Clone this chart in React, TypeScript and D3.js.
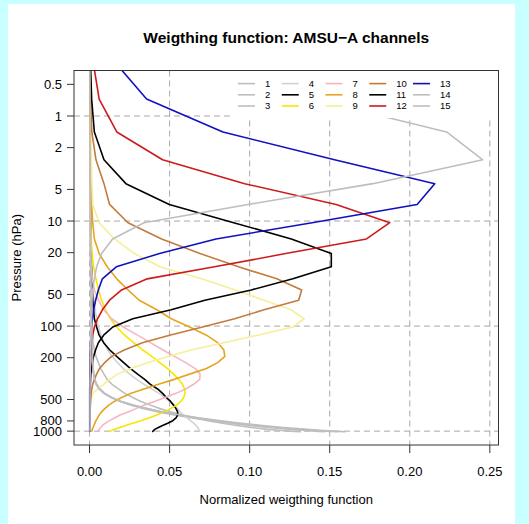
import React from "react";
import * as d3 from "d3";

// Pressure levels (hPa) on which the weighting functions are tabulated
const LEVELS = [
  0.1, 0.29, 0.69, 1.42, 2.611, 4.407, 6.95, 10.37, 14.81, 20.4, 27.26, 35.51, 45.29, 56.73,
  69.97, 85.18, 102.05, 122.04, 143.84, 167.95, 194.36, 222.94, 253.71, 286.6, 321.5, 358.28,
  396.81, 436.95, 478.54, 521.46, 565.54, 610.6, 656.43, 702.73, 749.12, 795.09, 839.95, 882.8,
  922.46, 957.44, 985.88, 1005.43, 1013.25,
];

// Normalized weighting function per AMSU-A channel, one value per level
const CH1 = [
  0.0002, 0.0002, 0.0003, 0.0003, 0.0004, 0.0004, 0.0005, 0.0005, 0.0006, 0.0006, 0.0007, 0.0008, 0.0009, 0.001,
  0.0011, 0.0012, 0.0013, 0.0014, 0.0015, 0.0016, 0.0017, 0.0018, 0.002, 0.0025, 0.003, 0.004,
  0.006, 0.009, 0.0135, 0.019, 0.026, 0.034, 0.043, 0.053, 0.064, 0.076, 0.088, 0.1,
  0.112, 0.124, 0.135, 0.143, 0.147,
];
const CH2 = [
  0.0002, 0.0002, 0.0003, 0.0003, 0.0004, 0.0004, 0.0005, 0.0005, 0.0006, 0.0007, 0.0008, 0.0009, 0.001, 0.0011,
  0.0012, 0.0013, 0.0014, 0.0015, 0.0016, 0.0017, 0.0018, 0.002, 0.0022, 0.0027, 0.0033, 0.0045,
  0.0065, 0.0095, 0.014, 0.02, 0.027, 0.036, 0.045, 0.056, 0.067, 0.079, 0.091, 0.104,
  0.117, 0.129, 0.141, 0.15, 0.155,
];
const CH3 = [
  0.0001, 0.0001, 0.0002, 0.0002, 0.0003, 0.0003, 0.0004, 0.0004, 0.0005, 0.0005, 0.0006, 0.0006, 0.0007, 0.0008,
  0.001, 0.0012, 0.0015, 0.0018, 0.0022, 0.003, 0.004, 0.0055, 0.007, 0.009, 0.011, 0.014,
  0.018, 0.022, 0.027, 0.032, 0.038, 0.044, 0.051, 0.058, 0.066, 0.074, 0.083, 0.092,
  0.101, 0.11, 0.12, 0.128, 0.132,
];
const CH4 = [
  0.0001, 0.0001, 0.0001, 0.0002, 0.0002, 0.0003, 0.0003, 0.0004, 0.0005, 0.0007, 0.0012, 0.0015, 0.002, 0.0028,
  0.0035, 0.0045, 0.0056, 0.0072, 0.009, 0.0113, 0.014, 0.0175, 0.021, 0.025, 0.0294, 0.034,
  0.0388, 0.0435, 0.047, 0.05, 0.0525, 0.055, 0.0565, 0.0585, 0.061, 0.063, 0.065, 0.0665,
  0.0675, 0.068, 0.0685, 0.0688, 0.069,
];
const CH5 = [
  0.0001, 0.0002, 0.0003, 0.0004, 0.0005, 0.0006, 0.0007, 0.0008, 0.0009, 0.001, 0.0012, 0.0014, 0.0017, 0.002,
  0.0025, 0.003, 0.0044, 0.006, 0.0088, 0.0125, 0.0169, 0.0213, 0.0256, 0.03, 0.0344, 0.038,
  0.0425, 0.0456, 0.048, 0.0506, 0.0525, 0.054, 0.055, 0.055, 0.054, 0.052, 0.0488, 0.0456,
  0.043, 0.041, 0.04, 0.0394, 0.039,
];
const CH6 = [
  0.0001, 0.0001, 0.0002, 0.0003, 0.0004, 0.0005, 0.0006, 0.0008, 0.001, 0.0016, 0.0025, 0.004, 0.0056, 0.0075,
  0.01, 0.013, 0.0169, 0.0219, 0.0275, 0.033, 0.0388, 0.0438, 0.0488, 0.0525, 0.0556, 0.058,
  0.0594, 0.0597, 0.0588, 0.057, 0.0544, 0.0506, 0.0463, 0.042, 0.037, 0.032, 0.027, 0.0225,
  0.019, 0.0156, 0.0138, 0.0125, 0.012,
];
const CH7 = [
  0.0001, 0.0001, 0.0002, 0.0002, 0.0003, 0.0003, 0.0004, 0.0005, 0.0006, 0.0008, 0.001, 0.0017, 0.003, 0.0056,
  0.0088, 0.0138, 0.021, 0.03, 0.038, 0.0456, 0.053, 0.06, 0.066, 0.069, 0.0688, 0.065,
  0.06, 0.054, 0.047, 0.0406, 0.034, 0.029, 0.024, 0.019, 0.0156, 0.0125, 0.01, 0.008,
  0.007, 0.006, 0.0053, 0.005, 0.0047,
];
const CH8 = [
  0.0001, 0.0002, 0.0003, 0.0005, 0.0007, 0.001, 0.0013, 0.002, 0.003, 0.006, 0.011, 0.017, 0.024, 0.031,
  0.042, 0.051, 0.0625, 0.073, 0.08, 0.0838, 0.0845, 0.08, 0.073, 0.0625, 0.053, 0.043,
  0.034, 0.026, 0.02, 0.0155, 0.012, 0.0095, 0.0075, 0.006, 0.005, 0.004, 0.0033, 0.0027,
  0.0022, 0.0018, 0.0015, 0.0013, 0.0012,
];
const CH9 = [
  0.0001, 0.0003, 0.0006, 0.0009, 0.0012, 0.0015, 0.002, 0.006, 0.0156, 0.028, 0.044, 0.07, 0.091, 0.109,
  0.126, 0.134, 0.127, 0.105, 0.084, 0.064, 0.049, 0.036, 0.026, 0.0175, 0.0125, 0.0088,
  0.005, 0.002, 0.0013, 0.0008, 0.0006, 0.0005, 0.0004, 0.0004, 0.0003, 0.0003, 0.0003, 0.0003,
  0.0003, 0.0003, 0.0003, 0.0003, 0.0003,
];
const CH10 = [
  0.0001, 0.0003, 0.0007, 0.0014, 0.004, 0.009, 0.0125, 0.024, 0.045, 0.069, 0.093, 0.117, 0.1325, 0.1306,
  0.109, 0.0906, 0.0706, 0.05, 0.033, 0.022, 0.0138, 0.0094, 0.0062, 0.0044, 0.003, 0.002,
  0.0014, 0.001, 0.0008, 0.0006, 0.0005, 0.0004, 0.0004, 0.0003, 0.0003, 0.0003, 0.0003, 0.0003,
  0.0003, 0.0003, 0.0003, 0.0003, 0.0003,
];
const CH11 = [
  0.0002, 0.0005, 0.0013, 0.003, 0.009, 0.0227, 0.0498, 0.09, 0.126, 0.151, 0.151, 0.127, 0.101, 0.072,
  0.051, 0.027, 0.0145, 0.0088, 0.0055, 0.0038, 0.0025, 0.0018, 0.0012, 0.0008, 0.0006, 0.0005,
  0.0004, 0.0003, 0.0003, 0.0002, 0.0002, 0.0002, 0.0002, 0.0002, 0.0002, 0.0002, 0.0002, 0.0002,
  0.0002, 0.0002, 0.0002, 0.0002, 0.0002,
];
const CH12 = [
  0.0005, 0.002, 0.006, 0.017, 0.0456, 0.0969, 0.154, 0.1875, 0.173, 0.1225, 0.078, 0.036, 0.02, 0.0125,
  0.008, 0.005, 0.003, 0.002, 0.0015, 0.0011, 0.0008, 0.0006, 0.0005, 0.0004, 0.0003, 0.0003,
  0.0002, 0.0002, 0.0002, 0.0002, 0.0002, 0.0002, 0.0002, 0.0002, 0.0002, 0.0002, 0.0002, 0.0002,
  0.0002, 0.0002, 0.0002, 0.0002, 0.0002,
];
const CH13 = [
  0.005, 0.0144, 0.0356, 0.0833, 0.153, 0.2156, 0.2046, 0.139, 0.079, 0.0437, 0.0167, 0.008, 0.0055, 0.0038,
  0.0025, 0.0018, 0.0012, 0.0009, 0.0007, 0.0005, 0.0004, 0.0003, 0.0003, 0.0002, 0.0002, 0.0002,
  0.0001, 0.0001, 0.0001, 0.0001, 0.0001, 0.0001, 0.0001, 0.0001, 0.0001, 0.0001, 0.0001, 0.0001,
  0.0001, 0.0001, 0.0001, 0.0001, 0.0001,
];
const CH14 = [
  0.02, 0.07, 0.139, 0.223, 0.2456, 0.177, 0.099, 0.034, 0.0144, 0.0075, 0.0044, 0.003, 0.002, 0.0015,
  0.0012, 0.001, 0.0008, 0.0007, 0.0006, 0.0005, 0.0005, 0.0004, 0.0004, 0.0004, 0.0003, 0.0003,
  0.0003, 0.0003, 0.0003, 0.0003, 0.0003, 0.0003, 0.0003, 0.0003, 0.0003, 0.0003, 0.0003, 0.0003,
  0.0003, 0.0003, 0.0003, 0.0003, 0.0003,
];
const CH15 = [
  0.0002, 0.0002, 0.0003, 0.0003, 0.0004, 0.0004, 0.0005, 0.0005, 0.0006, 0.0007, 0.0008, 0.0009, 0.001, 0.0011,
  0.0012, 0.0013, 0.0014, 0.0015, 0.0016, 0.0017, 0.0018, 0.002, 0.0022, 0.0026, 0.0032, 0.0042,
  0.006, 0.009, 0.0135, 0.0195, 0.027, 0.036, 0.046, 0.057, 0.069, 0.082, 0.095, 0.108,
  0.121, 0.134, 0.146, 0.155, 0.16,
];

const CHANNEL_NAMES = ["1", "2", "3", "4", "5", "6", "7", "8", "9", "10", "11", "12", "13", "14", "15"];
const CHANNEL_VALUES = [CH1, CH2, CH3, CH4, CH5, CH6, CH7, CH8, CH9, CH10, CH11, CH12, CH13, CH14, CH15];
const CHANNEL_COLORS = [
  "#bebebe", "#bebebe", "#bebebe", "#d3d3d3", "#000000",
  "#f7e600", "#f4b6c2", "#e5a520", "#f7ee9a", "#c47a3c",
  "#000000", "#cd1a1a", "#1010c0", "#bebebe", "#bebebe",
];

const Y_TICKS = [0.5, 1, 2, 5, 10, 20, 50, 100, 200, 500, 800, 1000];
const X_TICKS = [0, 0.05, 0.1, 0.15, 0.2, 0.25];
const H_GRID = [1, 10, 100, 1000];

const W = 529;
const H = 524;
const FONT = "'Liberation Sans', Arial, Helvetica, sans-serif";

export default function App() {
  const box = { left: 74, right: 498.5, top: 70.5, bottom: 445 };

  // x limits: data range padded by 4% on each side
  const all = CHANNEL_VALUES.flat();
  const [xmin, xmax] = d3.extent(all) as [number, number];
  const xpad = (xmax - xmin) * 0.04;
  const x = d3.scaleLinear().domain([xmin - xpad, xmax + xpad]).range([box.left, box.right]);

  // y limits: 0.5 .. 1000 hPa on a log axis, padded by 4% in log space
  const lo = Math.log10(0.5);
  const hi = Math.log10(1000);
  const ypad = (hi - lo) * 0.04;
  const y = d3
    .scaleLog()
    .domain([Math.pow(10, lo - ypad), Math.pow(10, hi + ypad)])
    .range([box.top, box.bottom]);

  const line = d3
    .line<number>()
    .x((v) => x(v))
    .y((_, i) => y(LEVELS[i]));

  const legendLeft = 231;
  const legendTop = 71;
  const legendBottom = 118;
  const colStep = 43.75;
  const rowStep = 11.2;
  const firstRow = 83.6;
  const firstCol = 238;

  return (
    <div style={{ position: "fixed", left: 0, top: 0, width: W, height: H, background: "#c8ffff" }}>
      <svg width={W} height={H} style={{ display: "block" }} fontFamily={FONT}>
        <defs>
          <clipPath id="plot-area">
            <rect x={box.left} y={box.top} width={box.right - box.left} height={box.bottom - box.top} />
          </clipPath>
        </defs>
        <rect x={8} y={4} width={507} height={H - 4} fill="#ffffff" />

        {/* grid */}
        <g stroke="#a8a8a8" strokeWidth={1} strokeDasharray="6,4" fill="none">
          {X_TICKS.map((t) => (
            <line key={"vx" + t} x1={x(t)} x2={x(t)} y1={box.top} y2={box.bottom} />
          ))}
          {H_GRID.map((p) => (
            <line key={"hy" + p} x1={box.left} x2={box.right} y1={y(p)} y2={y(p)} />
          ))}
        </g>

        {/* weighting function curves */}
        <g clipPath="url(#plot-area)" fill="none" strokeWidth={1.6} strokeLinejoin="round">
          {CHANNEL_VALUES.map((vals, i) => (
            <path key={CHANNEL_NAMES[i]} d={line(vals) || ""} stroke={CHANNEL_COLORS[i]} />
          ))}
        </g>

        {/* legend */}
        <rect x={legendLeft} y={legendTop} width={box.right - legendLeft} height={legendBottom - legendTop} fill="#ffffff" />
        {CHANNEL_NAMES.map((name, i) => {
          const col = Math.floor(i / 3);
          const row = i % 3;
          const lx = firstCol + col * colStep;
          const ly = firstRow + row * rowStep;
          return (
            <g key={"lg" + name}>
              <line x1={lx} x2={lx + 17} y1={ly} y2={ly} stroke={CHANNEL_COLORS[i]} strokeWidth={1.6} />
              <text x={lx + 27} y={ly} dy="0.35em" fontSize={9.5} fill="#000">
                {name}
              </text>
            </g>
          );
        })}

        {/* frame */}
        <rect
          x={box.left}
          y={box.top}
          width={box.right - box.left}
          height={box.bottom - box.top}
          fill="none"
          stroke="#333"
          strokeWidth={1}
        />

        {/* y axis */}
        <g fontSize={13} fill="#000" textAnchor="end">
          {Y_TICKS.map((t) => (
            <g key={"yt" + t}>
              <line x1={box.left - 7} x2={box.left} y1={y(t)} y2={y(t)} stroke="#333" />
              <text x={62} y={y(t)} dy="0.35em">
                {t}
              </text>
            </g>
          ))}
        </g>

        {/* x axis */}
        <g fontSize={13} fill="#000" textAnchor="middle">
          {X_TICKS.map((t) => (
            <g key={"xt" + t}>
              <line x1={x(t)} x2={x(t)} y1={box.bottom} y2={box.bottom + 8} stroke="#333" />
              <text x={x(t)} y={476}>
                {d3.format(".2f")(t)}
              </text>
            </g>
          ))}
        </g>

        <text x={(box.left + box.right) / 2} y={504} fontSize={13} textAnchor="middle">
          Normalized weigthing function
        </text>
        <text
          transform={`translate(21,${(box.top + box.bottom) / 2}) rotate(-90)`}
          fontSize={13}
          textAnchor="middle"
        >
          Pressure (hPa)
        </text>
        <text x={(box.left + box.right) / 2} y={43} fontSize={15.5} fontWeight="bold" textAnchor="middle">
          Weigthing function: AMSU{"\u2212"}A channels
        </text>
      </svg>
    </div>
  );
}
